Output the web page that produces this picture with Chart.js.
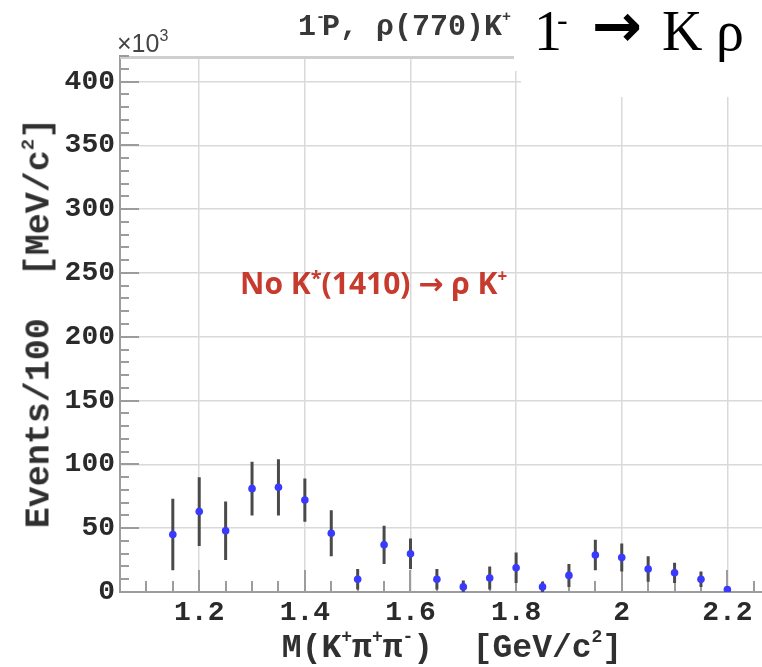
<!DOCTYPE html>
<html><head><meta charset="utf-8">
<script src="https://cdn.jsdelivr.net/npm/chart.js@4.4.1/dist/chart.umd.min.js"></script>
<style>
html,body{margin:0;padding:0;background:#fff;overflow:hidden;width:762px;height:667px;}
#wrap{position:relative;width:762px;height:667px;overflow:hidden;background:#fff;}
canvas{position:absolute;left:0;top:0;}
.t{position:absolute;white-space:pre;line-height:1;margin:0;}
.mono{font-family:"Liberation Mono","DejaVu Sans Mono",monospace;font-weight:bold;color:#303030;}
.sp{position:relative;display:inline-block;}
.box{position:absolute;background:#fff;}
.serif{font-family:"Liberation Serif","DejaVu Serif",serif;color:#000;}
</style></head><body>
<div id="wrap">
<canvas id="c" width="784" height="667"></canvas>

<div class="t mono" style="left:298px;top:12px;font-size:30px;color:#383838;">1<span class="sp" style="font-size:15px;top:-14px;margin-right:-3px;">-</span>P, ρ(770)K<span class="sp" style="font-size:15px;top:-14px;">+</span></div>

<div class="t" style="left:117px;top:31px;font-family:'Liberation Sans','DejaVu Sans',sans-serif;font-size:25px;color:#444;">×10<span class="sp" style="font-size:16px;top:-11px;">3</span></div>

<div class="box" style="left:514px;top:0;width:248px;height:71px;"></div>
<div class="box" style="left:521px;top:0;width:241px;height:97px;"></div>
<div class="t serif" style="left:534px;top:3px;font-size:56px;">1</div>
<div class="t serif" style="left:557px;top:3px;font-size:32px;">-</div>
<div class="t" style="left:592px;top:-5px;font-size:60px;font-family:'DejaVu Sans',sans-serif;font-weight:bold;color:#000;">→</div>
<div class="t serif" style="left:662px;top:3px;font-size:56px;">K</div>
<div class="t serif" style="left:716px;top:3px;font-size:56px;">ρ</div>

<div class="t" style="left:240px;top:268px;font-family:'Open Sans','Noto Sans',sans-serif;font-weight:bold;font-size:30px;color:#c73a2e;">No K<span class="sp" style="font-size:20px;top:-9px;">*</span>(1410) <span style="font-family:'DejaVu Sans',sans-serif;font-weight:bold;">→</span> ρ K<span class="sp" style="font-size:17px;top:-12px;">+</span></div>

<div class="t mono" style="left:40px;top:323px;font-size:35px;transform:translate(-50%,-50%) rotate(-90deg);">Events/100  [MeV/c<span class="sp" style="font-size:19px;top:-15px;">2</span>]</div>

<div class="t mono" style="left:452px;top:648px;font-size:33px;transform:translate(-50%,-50%);">M(K<span class="sp" style="font-size:18px;top:-15px;">+</span>π<span class="sp" style="font-size:18px;top:-15px;">+</span>π<span class="sp" style="font-size:18px;top:-15px;">-</span>)  [GeV/c<span class="sp" style="font-size:18px;top:-15px;">2</span>]</div>
</div>

<script>
// ---- data (values in units of 10^3) ----
const massBins = [1.15,1.20,1.25,1.30,1.35,1.40,1.45,1.50,1.55,1.60,1.65,1.70,1.75,1.80,1.85,1.90,1.95,2.00,2.05,2.10,2.15,2.20];
const events   = [45,  63,  48,  81,  82,  72,  46,  10,  37,  30,  10,  4,   11,  19,  4,   13,  29,  27,  18,  15,  10,  2];
const errors   = [28,  27,  23,  21,  22,  17,  18,  8,   15,  12,  8,   5,   9,   12,  4,   9,   12,  11,  10,  8,   6,   2];

const xTickValues = [1.2,1.4,1.6,1.8,2.0,2.2];
const xTickLabels = ['1.2','1.4','1.6','1.8','2','2.2'];
const yTickValues = [0,50,100,150,200,250,300,350,400];
const yTickLabels = ['0','50','100','150','200','250','300','350','400'];

const xRange = [1.05, 2.30];
const yRange = [0, 420];
const xMinorStep = 0.05, xMajorEvery = 4;
const yMinorStep = 10, yMajorEvery = 5;

const decor = {
  id: 'decor',
  beforeDatasetsDraw(chart) {
    const {ctx, chartArea: a, scales: {x, y}} = chart;
    ctx.save();
    // top frame line
    ctx.strokeStyle = '#cfcfcf'; ctx.lineWidth = 3;
    ctx.beginPath(); ctx.moveTo(a.left, a.top + 1.5); ctx.lineTo(a.right, a.top + 1.5); ctx.stroke();
    // inner ticks
    ctx.strokeStyle = '#9c9c9c'; ctx.lineWidth = 2;
    ctx.beginPath();
    const kx0 = Math.ceil(xRange[0] / xMinorStep - 1e-6), kx1 = Math.floor(xRange[1] / xMinorStep + 1e-6);
    for (let k = kx0; k <= kx1; k++) {
      const px = Math.round(x.getPixelForValue(k * xMinorStep));
      const len = (k % xMajorEvery === 0) ? 22 : 11;
      ctx.moveTo(px, a.bottom); ctx.lineTo(px, a.bottom - len);
    }
    const ky0 = Math.ceil(yRange[0] / yMinorStep), ky1 = Math.floor(yRange[1] / yMinorStep);
    for (let k = ky0; k <= ky1; k++) {
      const py = Math.round(y.getPixelForValue(k * yMinorStep));
      const len = (k % yMajorEvery === 0) ? 19 : 9;
      ctx.moveTo(a.left, py); ctx.lineTo(a.left + len, py);
    }
    ctx.stroke();
    // error bars
    ctx.strokeStyle = '#4a4a4a'; ctx.lineWidth = 3;
    ctx.beginPath();
    massBins.forEach((m, i) => {
      const px = x.getPixelForValue(m);
      ctx.moveTo(px, y.getPixelForValue(Math.max(0, events[i] - errors[i])));
      ctx.lineTo(px, y.getPixelForValue(events[i] + errors[i]));
    });
    ctx.stroke();
    ctx.restore();
  }
};

const tickFont = {family: "'Liberation Mono','DejaVu Sans Mono',monospace", size: 28, weight: 'bold'};

new Chart(document.getElementById('c'), {
  type: 'scatter',
  data: {
    datasets: [{
      data: massBins.map((m, i) => ({x: m, y: events[i]})),
      backgroundColor: '#3a3aff',
      borderWidth: 0,
      pointRadius: 3.8,
      pointHoverRadius: 3.8
    }]
  },
  options: {
    responsive: false,
    animation: false,
    layout: {padding: {top: 56, right: 0, bottom: 0, left: 0}},
    plugins: {legend: {display: false}, tooltip: {enabled: false}, title: {display: false}},
    scales: {
      x: {
        type: 'linear', min: xRange[0], max: xRange[1],
        afterBuildTicks: s => { s.ticks = xTickValues.map(v => ({value: v})); },
        afterFit: s => { s.height = 75; },
        ticks: {callback: (v, i) => xTickLabels[i], font: tickFont, color: '#2a2a2a', padding: 4, maxRotation: 0, autoSkip: false},
        grid: {color: '#d9d9d9', lineWidth: 1.5, drawTicks: false},
        border: {display: true, color: '#9c9c9c', width: 2}
      },
      y: {
        type: 'linear', min: yRange[0], max: yRange[1],
        afterBuildTicks: s => { s.ticks = yTickValues.map(v => ({value: v})); },
        afterFit: s => { s.width = 120; },
        ticks: {callback: (v, i) => yTickLabels[i], font: tickFont, color: '#2a2a2a', padding: 5, autoSkip: false},
        grid: {color: '#d9d9d9', lineWidth: 1.5, drawTicks: false},
        border: {display: true, color: '#9c9c9c', width: 2}
      }
    }
  },
  plugins: [decor]
});
</script>
</body></html>
